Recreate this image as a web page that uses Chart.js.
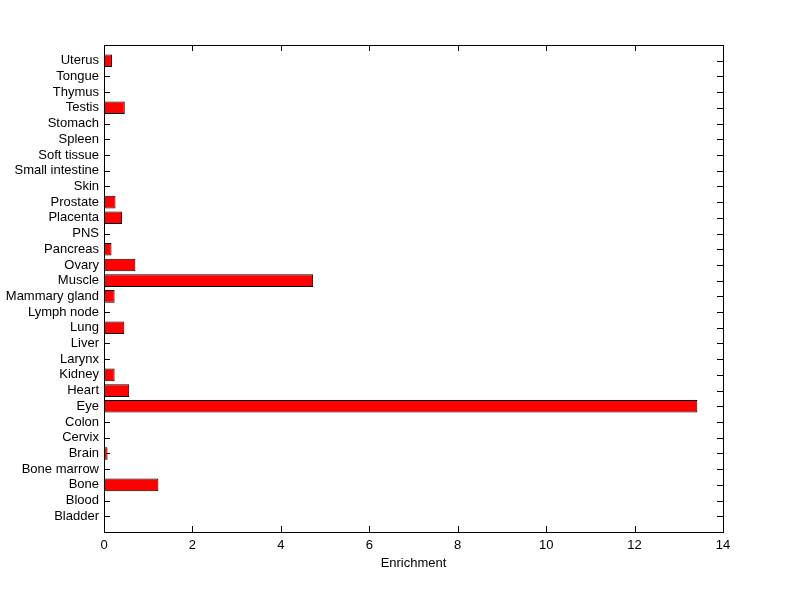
<!DOCTYPE html>
<html>
<head>
<meta charset="utf-8">
<script src="https://cdn.jsdelivr.net/npm/chart.js@4"></script>
<style>
  html, body { margin: 0; padding: 0; background: #fff; }
  #wrap { width: 800px; height: 599px; }
</style>
</head>
<body>
<div id="wrap"><canvas id="chart" width="800" height="599"></canvas></div>
<script>
/* DATA (bottom to top) */
const tissues = ["Bladder", "Blood", "Bone", "Bone marrow", "Brain", "Cervix", "Colon", "Eye",
  "Heart", "Kidney", "Larynx", "Liver", "Lung", "Lymph node", "Mammary gland", "Muscle",
  "Ovary", "Pancreas", "PNS", "Placenta", "Prostate", "Skin", "Small intestine",
  "Soft tissue", "Spleen", "Stomach", "Testis", "Thymus", "Tongue", "Uterus"];
const enrichment = [0, 0, 1.23, 0, 0.08, 0, 0, 13.42,
  0.57, 0.24, 0, 0, 0.46, 0, 0.24, 4.73,
  0.71, 0.17, 0, 0.41, 0.26, 0, 0,
  0, 0, 0, 0.47, 0, 0, 0.18];
const xTicks = [0, 2, 4, 6, 8, 10, 12, 14];
const xLabel = "Enrichment";

const FONT = { family: "'Liberation Sans', Arial, sans-serif", size: 13 };

/* inward ticks (under the bars) + frame on top, matlab style */
const frame = {
  id: "frame",
  beforeDatasetsDraw(chart) {
    const { ctx, chartArea: a, scales } = chart;
    ctx.save();
    ctx.strokeStyle = "#000";
    ctx.lineWidth = 1;
    ctx.beginPath();
    scales.x.ticks.forEach(t => {
      const px = Math.round(scales.x.getPixelForValue(t.value)) + 0.5;
      ctx.moveTo(px, a.bottom); ctx.lineTo(px, a.bottom - 6);
      ctx.moveTo(px, a.top); ctx.lineTo(px, a.top + 6);
    });
    scales.y.ticks.forEach(t => {
      const py = Math.round(scales.y.getPixelForValue(t.value)) + 0.5;
      ctx.moveTo(a.left, py); ctx.lineTo(a.left + 6, py);
      ctx.moveTo(a.right, py); ctx.lineTo(a.right - 6, py);
    });
    ctx.stroke();
    ctx.restore();
  },
  afterDatasetsDraw(chart) {
    const { ctx, chartArea: a } = chart;
    ctx.save();
    ctx.strokeStyle = "#000";
    ctx.lineWidth = 1;
    ctx.strokeRect(Math.round(a.left) + 0.5, Math.round(a.top) + 0.5,
      Math.round(a.right - a.left), Math.round(a.bottom - a.top));
    ctx.restore();
  }
};

new Chart(document.getElementById("chart"), {
  type: "bar",
  data: {
    datasets: [{
      data: enrichment.map((v, i) => ({ x: v, y: i + 1 })),
      backgroundColor: "#ff0000",
      borderColor: "#000",
      borderWidth: 1,
      barPercentage: 0.8,
      categoryPercentage: 1
    }]
  },
  options: {
    indexAxis: "y",
    responsive: false,
    animation: false,
    layout: { padding: { top: 45, right: 77, left: 0, bottom: 0 } },
    plugins: { legend: { display: false }, tooltip: { enabled: false } },
    scales: {
      x: {
        type: "linear",
        min: 0,
        max: 14,
        afterBuildTicks: s => { s.ticks = xTicks.map(v => ({ value: v })); },
        afterFit: s => { s.height = 67; },
        grid: { display: false, drawTicks: false },
        border: { display: false },
        ticks: { color: "#000", font: FONT, padding: 6, maxRotation: 0 },
        title: { display: true, text: xLabel, color: "#000", font: FONT, padding: { top: 2, bottom: 28 } }
      },
      y: {
        type: "linear",
        offset: false,
        min: 0,
        max: tissues.length + 1,
        afterBuildTicks: s => { s.ticks = tissues.map((_, i) => ({ value: i + 1 })); },
        afterFit: s => { s.width = 104; },
        grid: { display: false, drawTicks: false, offset: false },
        border: { display: false },
        ticks: {
          color: "#000",
          font: FONT,
          padding: 5,
          autoSkip: false,
          callback: v => tissues[v - 1] || ""
        }
      }
    }
  },
  plugins: [frame]
});
</script>
</body>
</html>
